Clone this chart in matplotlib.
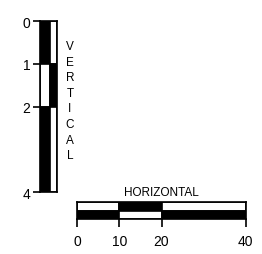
import matplotlib
matplotlib.use("Agg")
import matplotlib.pyplot as plt
from matplotlib.patches import Rectangle

plt.rcParams['font.family'] = ['Liberation Sans', 'DejaVu Sans']

# Vertical scale bar: segment boundaries and colours (left / right columns)
v_bounds = [0, 1, 2, 4]
v_left_colors = ['black', 'white', 'black']
v_right_colors = ['white', 'black', 'white']
v_ticks = [0, 1, 2, 4]
v_ticklabels = ['0', '1', '2', '4']
v_title = 'VERTICAL'

# Horizontal scale bar: segment boundaries and colours (top / bottom rows)
h_bounds = [0, 10, 20, 40]
h_top_colors = ['white', 'black', 'white']
h_bottom_colors = ['black', 'white', 'black']
h_ticks = [0, 10, 20, 40]
h_ticklabels = ['0', '10', '20', '40']
h_title = 'HORIZONTAL'

W, H = 262, 255
fig = plt.figure(figsize=(W / 100, H / 100), dpi=100)
fig.patch.set_facecolor('white')

def fig_rect(x0, y0, x1, y1):
    return [x0 / W, 1 - y1 / H, (x1 - x0) / W, (y1 - y0) / H]

lw = 1.2

# ---- vertical bar
axv = fig.add_axes(fig_rect(40, 22, 57.3, 193.3))
axv.set_xlim(0, 1)
axv.set_ylim(4, 0)
split = 0.55
for i in range(len(v_bounds) - 1):
    y0, y1 = v_bounds[i], v_bounds[i + 1]
    axv.add_patch(Rectangle((0, y0), split, y1 - y0, facecolor=v_left_colors[i],
                            edgecolor='black', linewidth=lw))
    axv.add_patch(Rectangle((split, y0), 1 - split, y1 - y0, facecolor=v_right_colors[i],
                            edgecolor='black', linewidth=lw))
axv.set_xticks([])
axv.set_yticks(v_ticks)
axv.set_yticklabels(v_ticklabels, fontsize=10)
axv.tick_params(axis='y', length=5, width=lw, pad=2)
for s in axv.spines.values():
    s.set_linewidth(lw)
axv.text(1.73, 1.86, '\n'.join(v_title), ha='center', va='center',
         fontsize=8.5, linespacing=1.4, clip_on=False)

# ---- horizontal bar
axh = fig.add_axes(fig_rect(77.3, 203.3, 245.7, 220))
axh.set_xlim(0, 40)
axh.set_ylim(0, 2)
for i in range(len(h_bounds) - 1):
    x0, x1 = h_bounds[i], h_bounds[i + 1]
    axh.add_patch(Rectangle((x0, 1), x1 - x0, 1, facecolor=h_top_colors[i],
                            edgecolor='black', linewidth=lw))
    axh.add_patch(Rectangle((x0, 0), x1 - x0, 1, facecolor=h_bottom_colors[i],
                            edgecolor='black', linewidth=lw))
axh.set_yticks([])
axh.set_xticks(h_ticks)
axh.set_xticklabels(h_ticklabels, fontsize=10)
axh.tick_params(axis='x', length=5.5, width=lw, pad=5)
for s in axh.spines.values():
    s.set_linewidth(lw)
axh.text(20, 3.2, h_title, ha='center', va='center', fontsize=8.5, clip_on=False)

fig.savefig('out.png', dpi=100, facecolor='white')
